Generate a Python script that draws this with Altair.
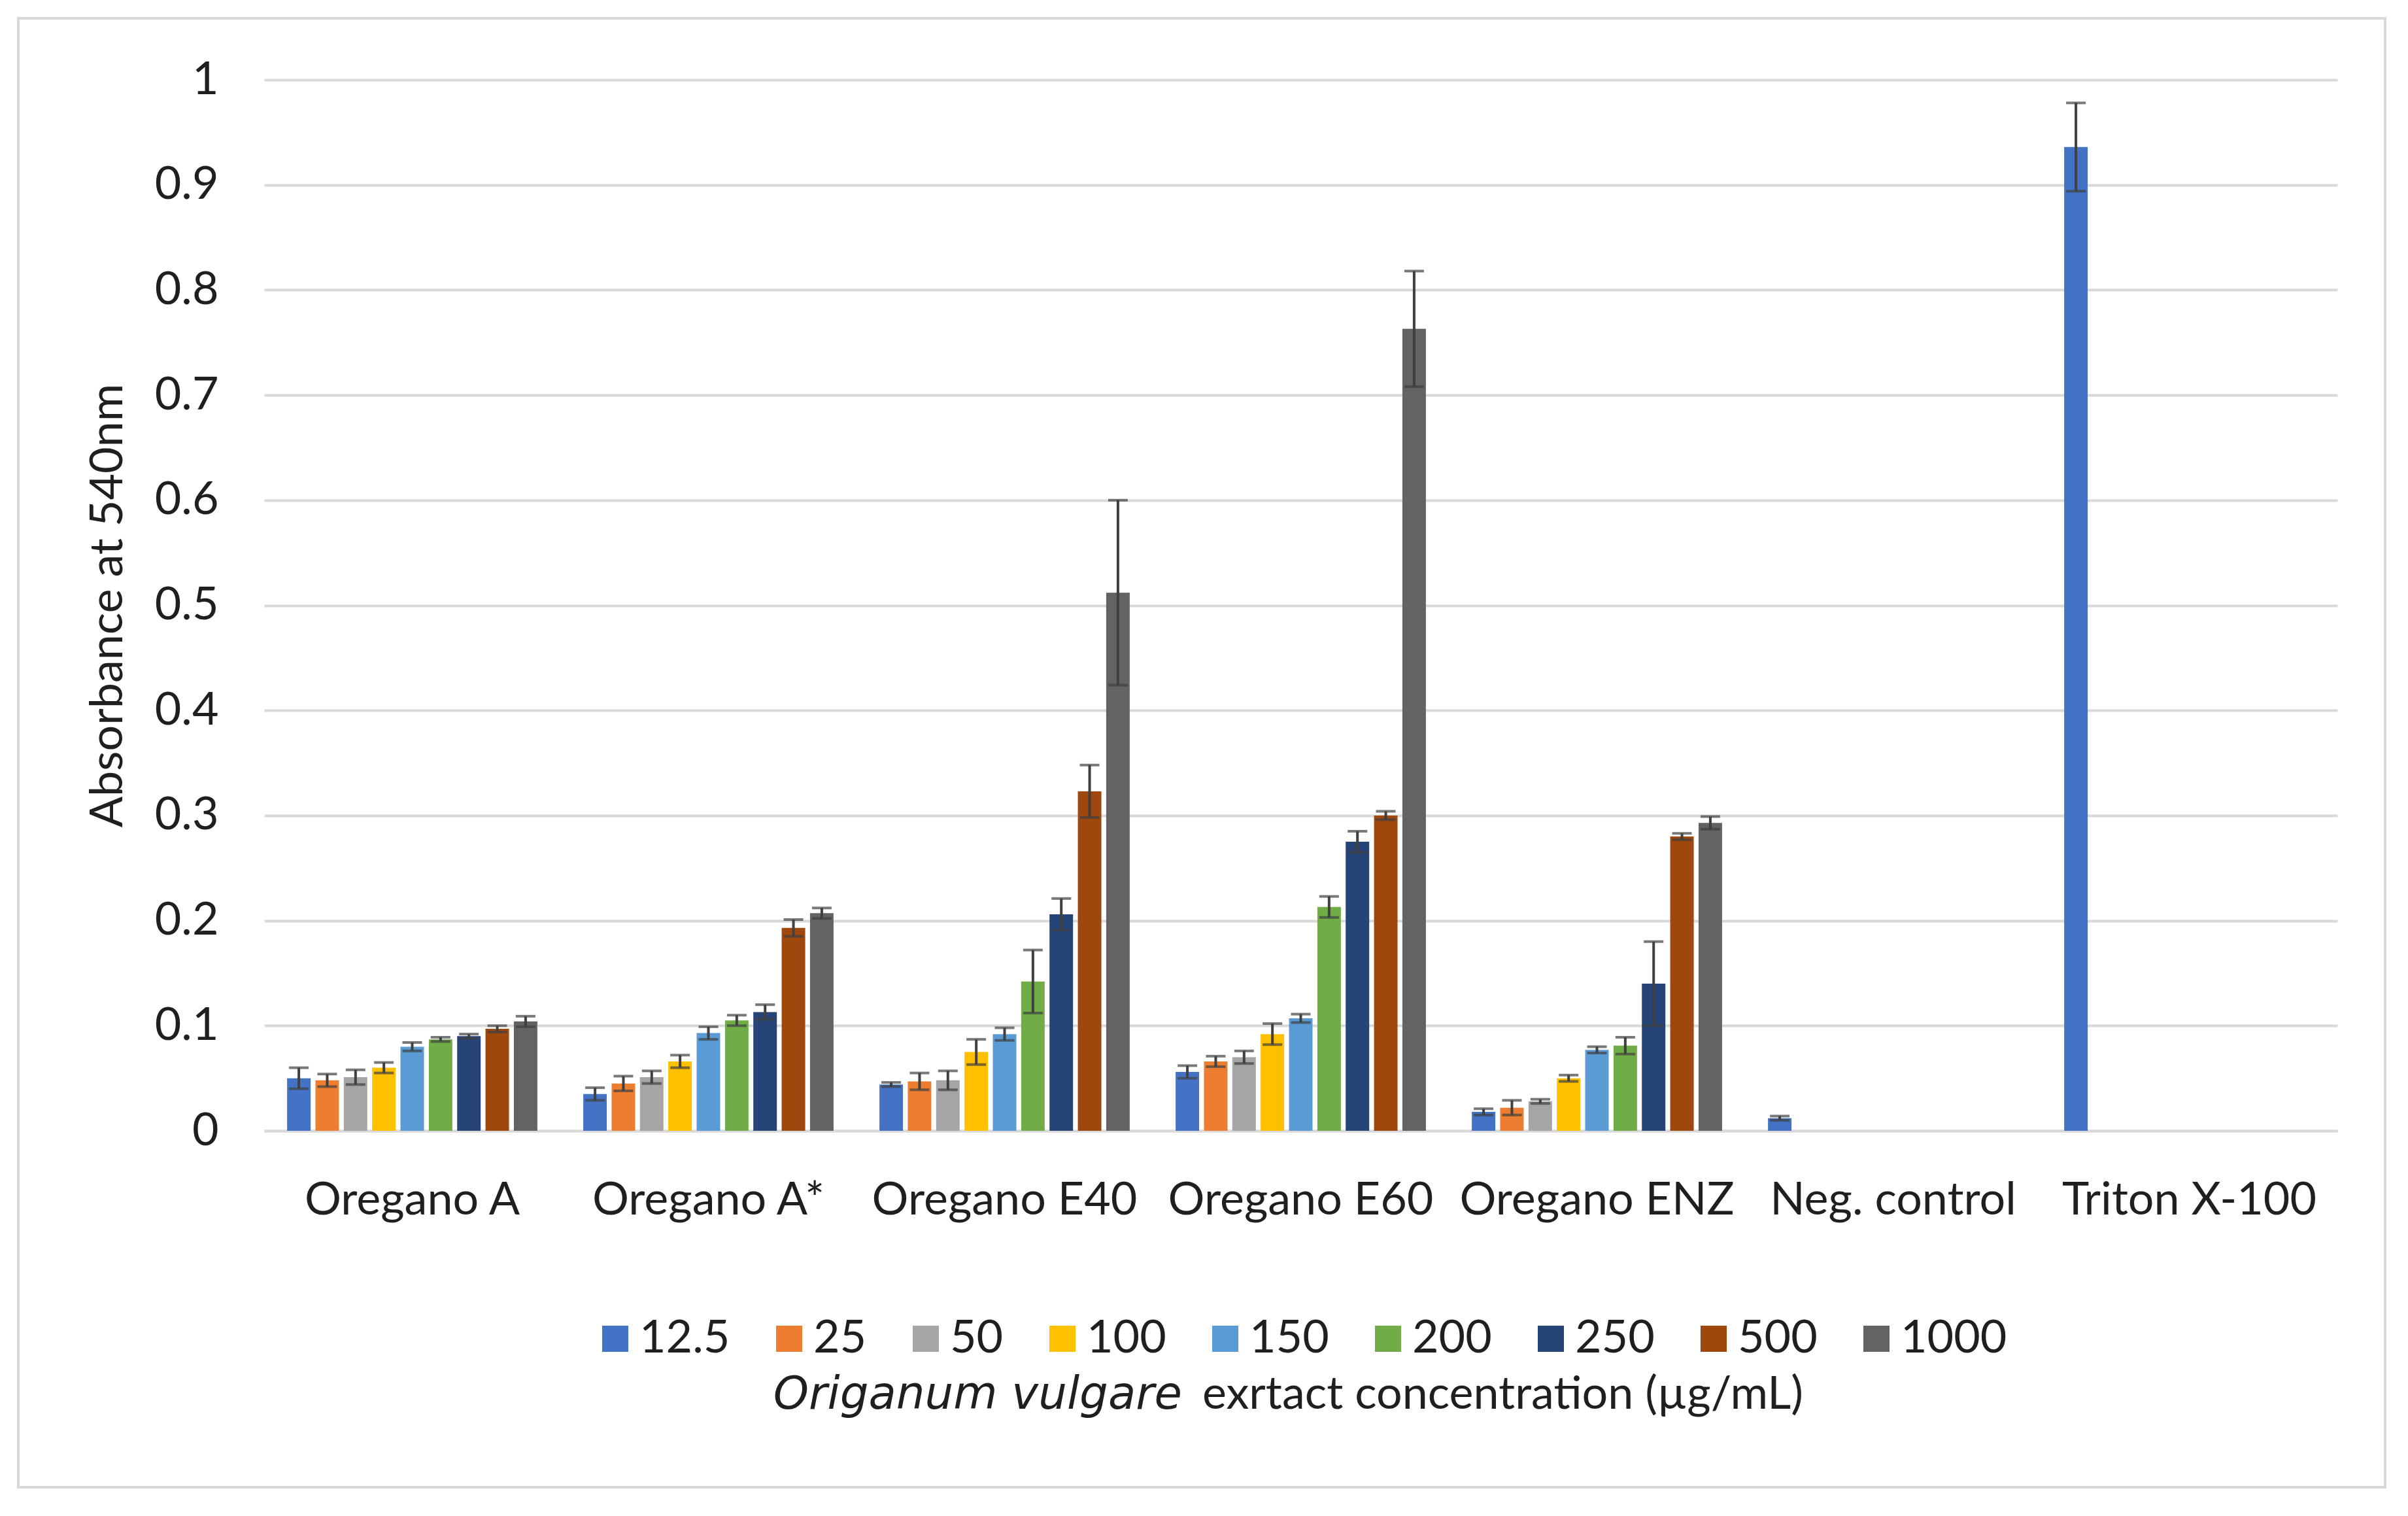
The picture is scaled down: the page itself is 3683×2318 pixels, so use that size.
import altair as alt
import pandas as pd

groups = ["Oregano A", "Oregano A*", "Oregano E40", "Oregano E60",
          "Oregano ENZ", "Neg. control", "Triton X-100"]
concs = ["12.5", "25", "50", "100", "150", "200", "250", "500", "1000"]
colors = ["#4472C4", "#ED7D31", "#A5A5A5", "#FFC000", "#5B9BD5",
          "#70AD47", "#264478", "#9E480E", "#636363"]

oregano_a = [0.050, 0.048, 0.051, 0.060, 0.080, 0.087, 0.090, 0.097, 0.104]
oregano_a_err = [0.010, 0.006, 0.007, 0.005, 0.004, 0.002, 0.002, 0.003, 0.005]
oregano_a_star = [0.035, 0.045, 0.051, 0.066, 0.093, 0.105, 0.113, 0.193, 0.207]
oregano_a_star_err = [0.006, 0.007, 0.006, 0.006, 0.006, 0.005, 0.007, 0.008, 0.005]
oregano_e40 = [0.044, 0.047, 0.048, 0.075, 0.092, 0.142, 0.206, 0.323, 0.512]
oregano_e40_err = [0.002, 0.008, 0.009, 0.012, 0.006, 0.030, 0.015, 0.025, 0.088]
oregano_e60 = [0.056, 0.066, 0.070, 0.092, 0.107, 0.213, 0.275, 0.300, 0.763]
oregano_e60_err = [0.006, 0.005, 0.006, 0.010, 0.004, 0.010, 0.010, 0.004, 0.055]
oregano_enz = [0.018, 0.022, 0.028, 0.050, 0.077, 0.081, 0.140, 0.280, 0.293]
oregano_enz_err = [0.003, 0.007, 0.002, 0.003, 0.003, 0.008, 0.040, 0.003, 0.006]
neg_control = [0.012]
neg_control_err = [0.002]
triton = [0.936]
triton_err = [0.042]

series = [
    (groups[0], oregano_a, oregano_a_err),
    (groups[1], oregano_a_star, oregano_a_star_err),
    (groups[2], oregano_e40, oregano_e40_err),
    (groups[3], oregano_e60, oregano_e60_err),
    (groups[4], oregano_enz, oregano_enz_err),
    (groups[5], neg_control, neg_control_err),
    (groups[6], triton, triton_err),
]
rows = []
for g, vals, errs in series:
    for c, v, e in zip(concs, vals, errs):
        rows.append({"group": g, "conc": c, "value": v, "lo": v - e, "hi": v + e})
df = pd.DataFrame(rows)
one = pd.DataFrame({"k": [0]})

FONT = "Lato"
TXT = "#1f1f1f"
FS = 70
W, H = 3171, 1607
YTITLE = "Absorbance at 540nm"
yscale = alt.Scale(domain=[0, 1], nice=False)

base = alt.Chart(df).encode(
    x=alt.X("group:N", sort=groups,
            scale=alt.Scale(paddingInner=0.155, paddingOuter=0.0775),
            axis=alt.Axis(title=None, labelAngle=0, labelFontSize=FS, labelColor=TXT,
                          labelPadding=72, labelLimit=0, ticks=False,
                          domainColor="#D9D9D9", domainWidth=4)),
    xOffset=alt.XOffset("conc:N", sort=concs,
                        scale=alt.Scale(domain=concs, paddingInner=0.17, paddingOuter=0)),
)

bars = base.mark_bar().encode(
    y=alt.Y("value:Q", scale=yscale, title=YTITLE,
            axis=alt.Axis(values=[i / 10 for i in range(11)],
                          format="~g", labelFontSize=FS, labelColor=TXT, labelPadding=70,
                          ticks=False, domain=False, grid=True, gridColor="#D9D9D9",
                          gridWidth=4, titleFontSize=FS, titleFontWeight="normal",
                          titleColor=TXT, titlePadding=35)),
    color=alt.Color("conc:N", sort=concs, scale=alt.Scale(domain=concs, range=colors),
                    legend=alt.Legend(title=None, orient="none", legendX=502, legendY=1890,
                                      direction="horizontal", columns=9,
                                      symbolType="square", symbolSize=1600,
                                      symbolStrokeWidth=0, labelFontSize=FS,
                                      labelColor=TXT, columnPadding=55, labelOffset=2,
                                      labelLimit=0, padding=0)),
)

err_color = "#404040"
rules = base.mark_rule(color=err_color, strokeWidth=4).encode(
    y=alt.Y("lo:Q", scale=yscale, title=YTITLE), y2="hi:Q")
caps_hi = base.mark_tick(color=err_color, thickness=4, size=30).encode(
    y=alt.Y("hi:Q", scale=yscale, title=YTITLE))
caps_lo = base.mark_tick(color=err_color, thickness=4, size=30).encode(
    y=alt.Y("lo:Q", scale=yscale, title=YTITLE))

border = alt.Chart(one).mark_rect(fillOpacity=0, stroke="#D9D9D9", strokeWidth=4).encode(
    x=alt.value(-376), x2=alt.value(3244), y=alt.value(-94), y2=alt.value(2152))

title_it = alt.Chart(one).mark_text(fontStyle="italic", align="right", baseline="middle",
                                    fontSize=69, color=TXT, font="DejaVu Sans").encode(
    x=alt.value(1404), y=alt.value(2011), text=alt.value("Origanum vulgare"))
title_rest = alt.Chart(one).mark_text(align="left", baseline="middle",
                                      fontSize=FS, color=TXT, font=FONT).encode(
    x=alt.value(1435), y=alt.value(2011), text=alt.value("exrtact concentration (µg/mL)"))

chart = alt.layer(bars, rules, caps_hi, caps_lo, border, title_it, title_rest).properties(
    width=W, height=H, autosize="none",
    padding={"left": 396, "top": 114, "right": 100, "bottom": 560},
).configure_view(stroke=None).configure_axis(
    labelFont=FONT, titleFont=FONT
).configure_legend(labelFont=FONT)

chart.save("out.html", embed_options={"renderer": "svg", "actions": False})
